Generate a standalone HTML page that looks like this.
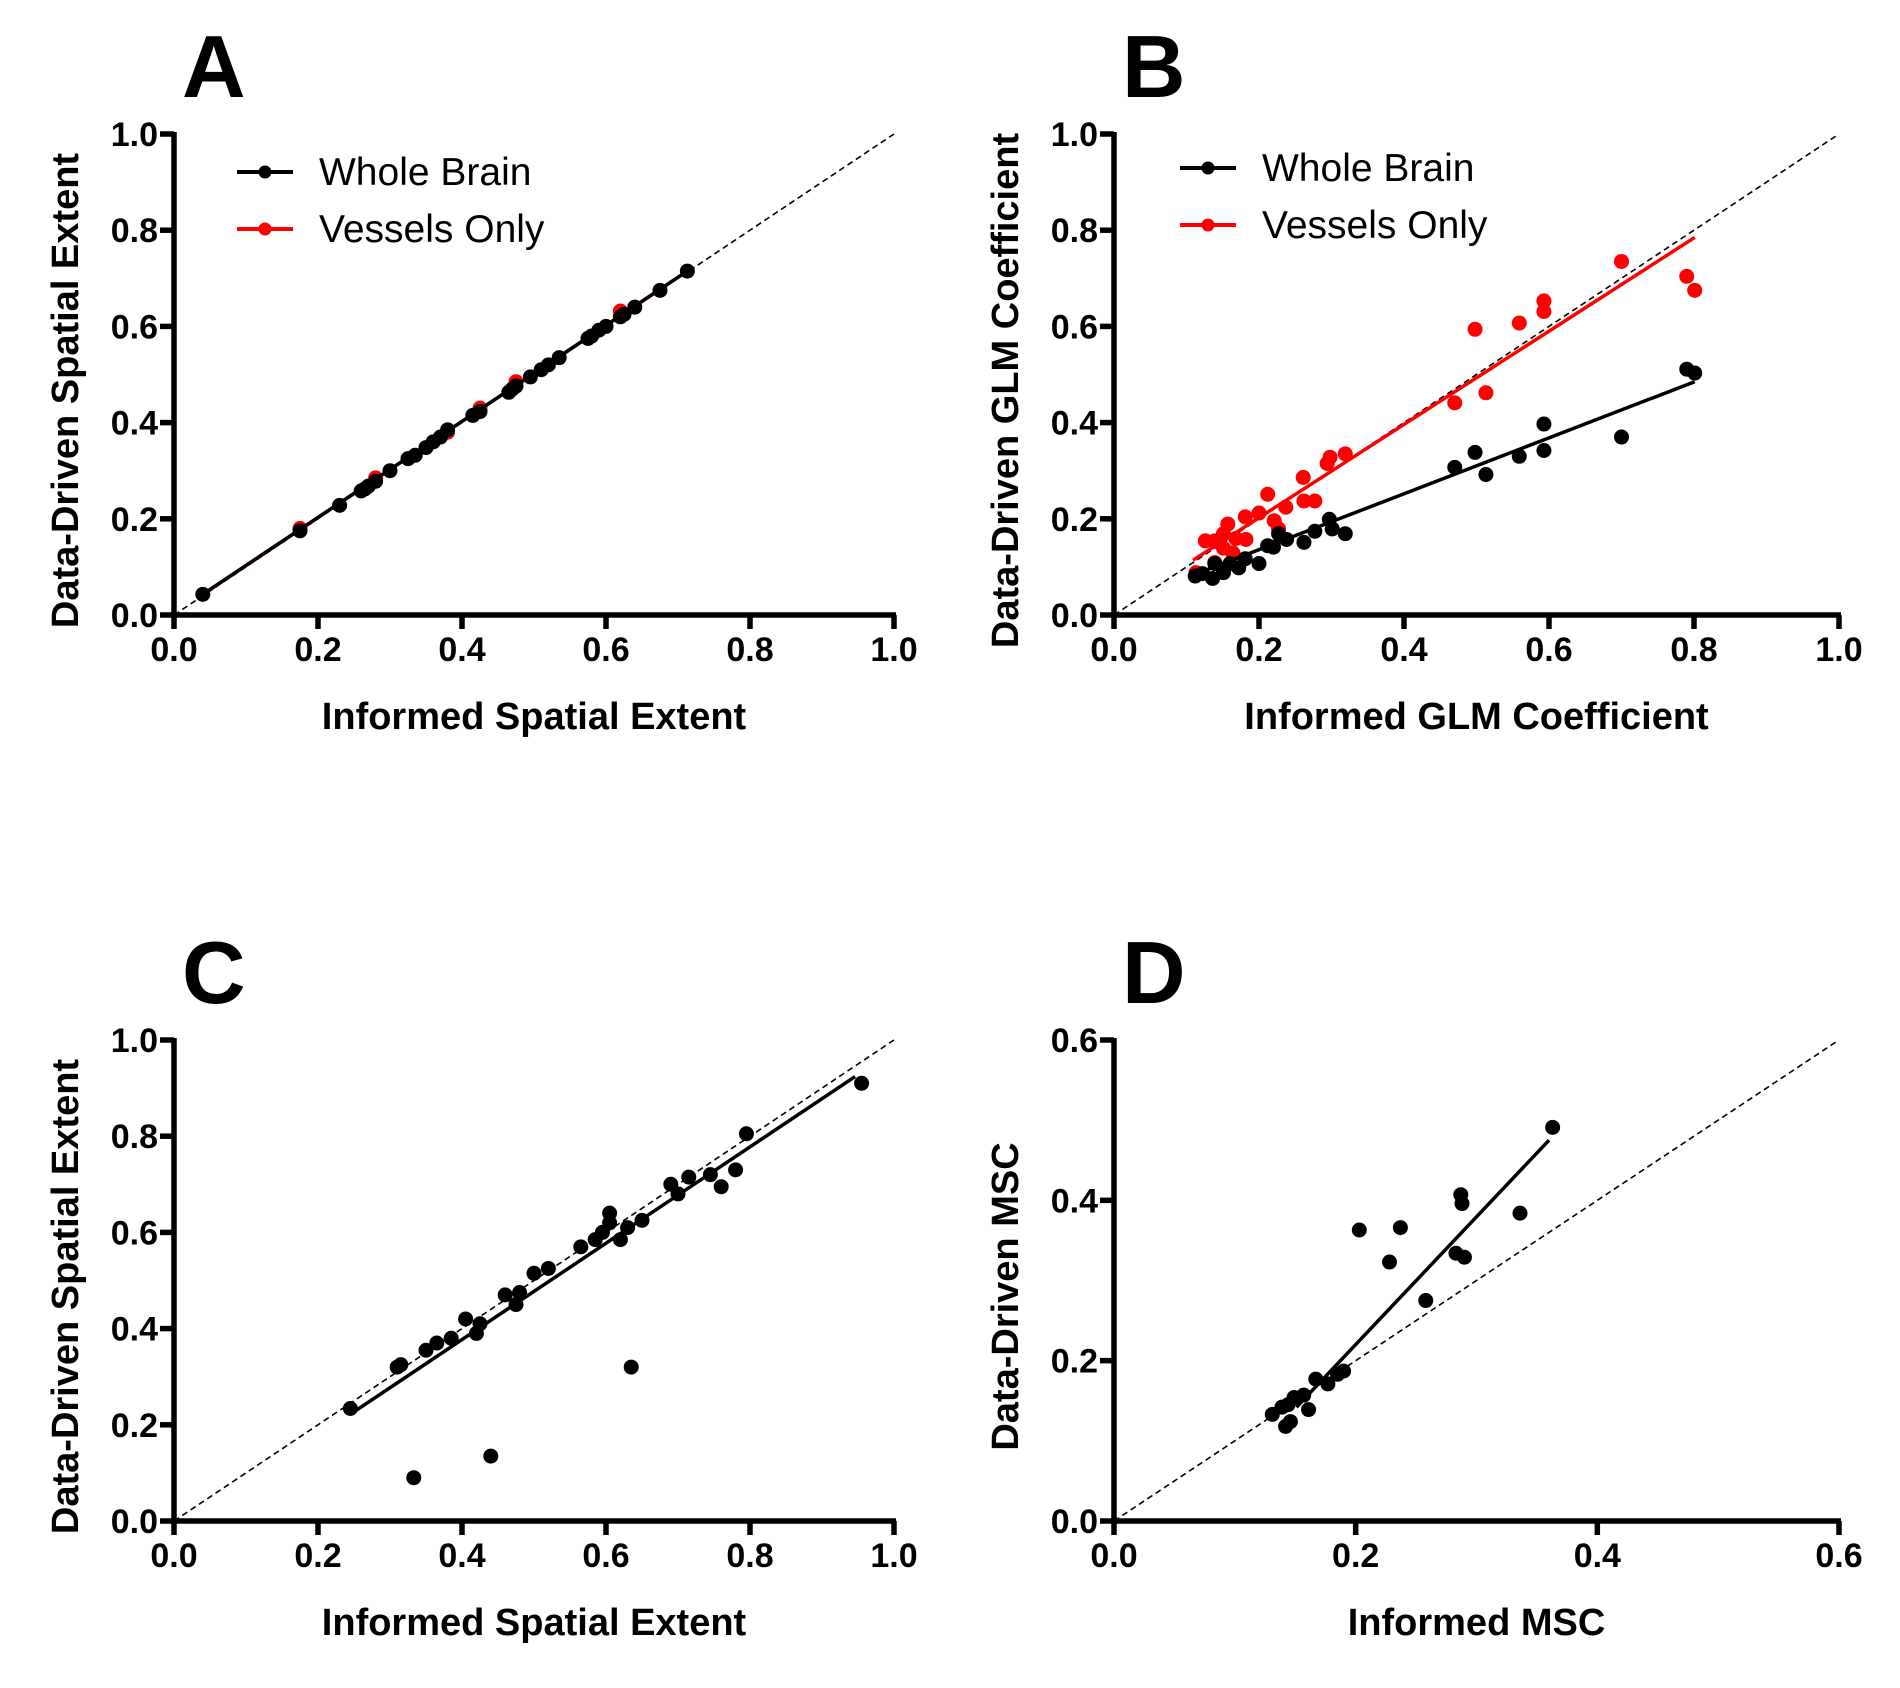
<!DOCTYPE html>
<html><head><meta charset="utf-8"><style>
html,body{margin:0;padding:0;background:#fff;}
svg{display:block;}
text{font-family:"Liberation Sans Narrow","Liberation Sans",sans-serif;}
</style></head><body>
<svg id="fig" width="1900" height="1688" viewBox="0 0 1900 1688" xmlns="http://www.w3.org/2000/svg"></svg>
<script>
// Panel A data
const aWholeX=[0.04,0.175,0.23,0.26,0.265,0.27,0.28,0.30,0.325,0.335,0.35,0.36,0.37,0.38,0.415,0.425,0.465,0.47,0.475,0.495,0.51,0.52,0.535,0.575,0.58,0.59,0.60,0.62,0.625,0.64,0.675,0.713];
const aWholeY=[0.043,0.175,0.228,0.258,0.262,0.268,0.278,0.30,0.325,0.332,0.348,0.36,0.37,0.385,0.415,0.423,0.463,0.47,0.476,0.495,0.51,0.52,0.535,0.575,0.58,0.592,0.60,0.62,0.625,0.64,0.675,0.715];
const aVesselX=[0.175,0.28,0.38,0.425,0.475,0.62];
const aVesselY=[0.18,0.285,0.38,0.43,0.485,0.632];
const aFitX=[0.04,0.713];
const aFitY=[0.043,0.715];
// Panel B data
const bRedX=[0.70,0.79,0.801,0.498,0.559,0.593,0.593,0.47,0.513,0.298,0.294,0.319,0.261,0.262,0.277,0.212,0.237,0.2,0.181,0.221,0.227,0.157,0.151,0.126,0.139,0.168,0.182,0.151,0.164,0.139,0.113];
const bRedY=[0.735,0.704,0.675,0.594,0.607,0.653,0.631,0.441,0.462,0.328,0.315,0.335,0.286,0.237,0.237,0.251,0.224,0.212,0.204,0.196,0.179,0.189,0.169,0.154,0.154,0.159,0.157,0.139,0.129,0.109,0.088];
const bBlackX=[0.79,0.801,0.70,0.593,0.593,0.559,0.498,0.47,0.513,0.297,0.301,0.319,0.277,0.262,0.227,0.238,0.212,0.22,0.2,0.181,0.172,0.16,0.139,0.151,0.136,0.122,0.112];
const bBlackY=[0.511,0.503,0.37,0.397,0.342,0.33,0.338,0.307,0.292,0.199,0.179,0.169,0.174,0.151,0.169,0.157,0.144,0.141,0.107,0.117,0.098,0.107,0.107,0.088,0.076,0.086,0.081];
const bRedFitX=[0.109,0.801];
const bRedFitY=[0.114,0.785];
const bBlackFitX=[0.109,0.801];
const bBlackFitY=[0.083,0.485];
// Panel C data
const cX=[0.245,0.31,0.315,0.35,0.365,0.385,0.405,0.42,0.425,0.46,0.475,0.48,0.5,0.52,0.565,0.585,0.595,0.605,0.605,0.62,0.63,0.65,0.69,0.70,0.715,0.745,0.76,0.78,0.795,0.955,0.333,0.44,0.635];
const cY=[0.234,0.32,0.325,0.355,0.37,0.38,0.42,0.39,0.41,0.47,0.45,0.475,0.515,0.525,0.57,0.585,0.60,0.64,0.62,0.585,0.61,0.625,0.70,0.68,0.715,0.72,0.695,0.73,0.805,0.91,0.09,0.135,0.32];
const cFitX=[0.245,0.946];
const cFitY=[0.222,0.924];
// Panel D data
const dX=[0.363,0.287,0.288,0.336,0.237,0.203,0.228,0.283,0.29,0.258,0.19,0.185,0.177,0.167,0.161,0.157,0.149,0.144,0.139,0.131,0.142,0.146];
const dY=[0.491,0.407,0.396,0.384,0.366,0.363,0.323,0.334,0.329,0.275,0.187,0.183,0.171,0.177,0.139,0.157,0.154,0.145,0.142,0.133,0.118,0.124];
const dFitX=[0.151,0.36];
const dFitY=[0.142,0.475];
const ticks10=["0.0","0.2","0.4","0.6","0.8","1.0"];
const tickVals10=[0,0.2,0.4,0.6,0.8,1.0];
const ticks06=["0.0","0.2","0.4","0.6"];
const tickVals06=[0,0.2,0.4,0.6];

const NS="http://www.w3.org/2000/svg";
const svg=document.getElementById('fig');
function el(tag,attrs,parent){const e=document.createElementNS(NS,tag);for(const k in attrs)e.setAttribute(k,attrs[k]);(parent||svg).appendChild(e);return e;}

function panel(p){
  const g=el('g',{});
  
  
  const sx=v=>p.x0+(v/p.max)*(p.x1-p.x0);
  const sy=v=>p.y0-(v/p.max)*(p.y0-p.y1);
  const lt=el('text',{x:p.x0+8,y:p.y1-37,'font-size':88,'font-weight':'bold','font-family':'Liberation Sans, sans-serif'},g);
  lt.textContent=p.id;
  
  
  const dl=el('line',{x1:sx(0),y1:sy(0),x2:sx(p.max),y2:sy(p.max),stroke:'#000','stroke-width':1.6,'stroke-dasharray':'6,4'},g);
  
  
  const ax=el('path',{d:`M${p.x0},${p.y1-2} L${p.x0},${p.y0} L${p.x1+2},${p.y0}`,fill:'none',stroke:'#000','stroke-width':5.5},g);
  
  
  p.tv.forEach((v,i)=>{
    el('line',{x1:sx(v),y1:p.y0,x2:sx(v),y2:p.y0+14,stroke:'#000','stroke-width':5.5},g);
    el('line',{x1:p.x0-14,y1:sy(v),x2:p.x0,y2:sy(v),stroke:'#000','stroke-width':5.5},g);
    const xt=el('text',{x:sx(v),y:p.y0+46,'text-anchor':'middle','font-size':34,'font-weight':'bold'},g);
    xt.textContent=p.tl[i];
    
    
    const yt=el('text',{x:p.x0-16,y:sy(v)+12,'text-anchor':'end','font-size':34,'font-weight':'bold'},g);
    yt.textContent=p.tl[i];
    
    
  });
  const xt=el('text',{x:(p.x0+p.x1)/2,y:p.y0+114,'text-anchor':'middle','font-size':38,'font-weight':'bold'},g);
  xt.textContent=p.xt;
  
  
  const yc=(p.y0+p.y1)/2+16;
  const yt=el('text',{x:0,y:0,transform:`translate(${p.x0-96},${yc}) rotate(-90)`,'text-anchor':'middle','font-size':38,'font-weight':'bold'},g);
  yt.textContent=p.yt;
  
  
  p.series.forEach(s=>{
    const fl=el('line',{x1:sx(s.fx[0]),y1:sy(s.fy[0]),x2:sx(s.fx[1]),y2:sy(s.fy[1]),stroke:s.c,'stroke-width':3.5},g);
    
    
    s.x.forEach((xv,i)=>{
      const c=el('circle',{cx:sx(xv),cy:sy(s.y[i]),r:7.5,fill:s.c},g);
      
      
    });
  });
  if(p.legend){
    p.legend.forEach((L,i)=>{
      const ly=p.legY+i*57;
      const lg=el('g',{},g);
      
      
      el('line',{x1:p.legX,y1:ly,x2:p.legX+56,y2:ly,stroke:L.c,'stroke-width':4},lg);
      el('circle',{cx:p.legX+28,cy:ly,r:6.5,fill:L.c},lg);
      const t=el('text',{x:p.legX+82,y:ly+13,'font-size':39},lg);
      t.textContent=L.label;
    });
  }
}
const leg=[{name:'whole-brain',label:'Whole Brain',c:'#000'},{name:'vessels-only',label:'Vessels Only',c:'#f00'}];
panel({id:'A',x0:174,x1:894,y0:615,y1:134,max:1,tv:tickVals10,tl:ticks10,xt:'Informed Spatial Extent',yt:'Data-Driven Spatial Extent',
  series:[{name:'vessels-only',c:'#f00',x:aVesselX,y:aVesselY,fx:aFitX,fy:aFitY},{name:'whole-brain',c:'#000',x:aWholeX,y:aWholeY,fx:aFitX,fy:aFitY}],
  legend:leg,legX:237,legY:172});
panel({id:'B',x0:1114,x1:1839,y0:615,y1:134,max:1,tv:tickVals10,tl:ticks10,xt:'Informed GLM Coefficient',yt:'Data-Driven GLM Coefficient',
  series:[{name:'vessels-only',c:'#f00',x:bRedX,y:bRedY,fx:bRedFitX,fy:bRedFitY},{name:'whole-brain',c:'#000',x:bBlackX,y:bBlackY,fx:bBlackFitX,fy:bBlackFitY}],
  legend:leg,legX:1180,legY:168});
panel({id:'C',x0:174,x1:894,y0:1521,y1:1040,max:1,tv:tickVals10,tl:ticks10,xt:'Informed Spatial Extent',yt:'Data-Driven Spatial Extent',
  series:[{name:'data',c:'#000',x:cX,y:cY,fx:cFitX,fy:cFitY}]});
panel({id:'D',x0:1114,x1:1839,y0:1521,y1:1040,max:0.6,tv:tickVals06,tl:ticks06,xt:'Informed MSC',yt:'Data-Driven MSC',
  series:[{name:'data',c:'#000',x:dX,y:dY,fx:dFitX,fy:dFitY}]});
</script>
</body></html>
